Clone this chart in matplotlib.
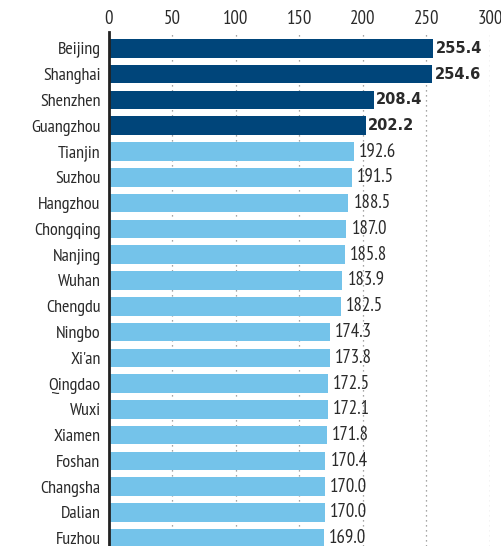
import matplotlib.pyplot as plt

# values
cities = ['Beijing', 'Shanghai', 'Shenzhen', 'Guangzhou', 'Tianjin', 'Suzhou',
          'Hangzhou', 'Chongqing', 'Nanjing', 'Wuhan', 'Chengdu', 'Ningbo',
          "Xi'an", 'Qingdao', 'Wuxi', 'Xiamen', 'Foshan', 'Changsha', 'Dalian',
          'Fuzhou']
values = [255.4, 254.6, 208.4, 202.2, 192.6, 191.5, 188.5, 187.0, 185.8, 183.9,
          182.5, 174.3, 173.8, 172.5, 172.1, 171.8, 170.4, 170.0, 170.0, 169.0]
n_highlight = 4
xticks = [0, 50, 100, 150, 200, 250, 300]

dark = '#00457a'
light = '#74c3ea'
txt = '#2a2a2a'

plt.rcParams['font.family'] = ['PT Sans Narrow', 'DejaVu Sans']

fig = plt.figure(figsize=(5.02, 5.46), dpi=100)
ax = fig.add_axes([0.217, 0.0, 0.759, 0.942])

colors = [dark if i < n_highlight else light for i in range(len(cities))]
ypos = list(range(len(cities)))
ax.barh(ypos, values, height=0.72, color=colors, zorder=2)

for i, v in enumerate(values):
    if i < n_highlight:
        ax.text(v + 2, i, f'{v:.1f}', va='center', ha='left', fontsize=10.5,
                fontweight='bold', color=txt, family='DejaVu Sans')
    else:
        ax.text(v + 4, i, f'{v:.1f}', va='center', ha='left', fontsize=13.5,
                color=txt)

ax.set_xlim(0, 300)
ax.set_ylim(19.3, -0.65)
ax.set_yticks(ypos)
ax.set_yticklabels(cities, fontsize=13, color=txt)
ax.set_xticks(xticks)
ax.set_xticklabels([str(t) for t in xticks], fontsize=13.5, color=txt)
ax.xaxis.tick_top()
ax.tick_params(axis='both', length=0)
ax.tick_params(axis='x', pad=3)
ax.tick_params(axis='y', pad=6)

ax.grid(axis='x', linestyle=(0, (1, 3)), color='#888888', linewidth=0.9, zorder=0)
for s in ['top', 'right', 'bottom']:
    ax.spines[s].set_visible(False)
ax.spines['left'].set_linewidth(2)
ax.spines['left'].set_color('#222222')
ax.spines['left'].set_zorder(3)

fig.savefig('out.png', dpi=100)
